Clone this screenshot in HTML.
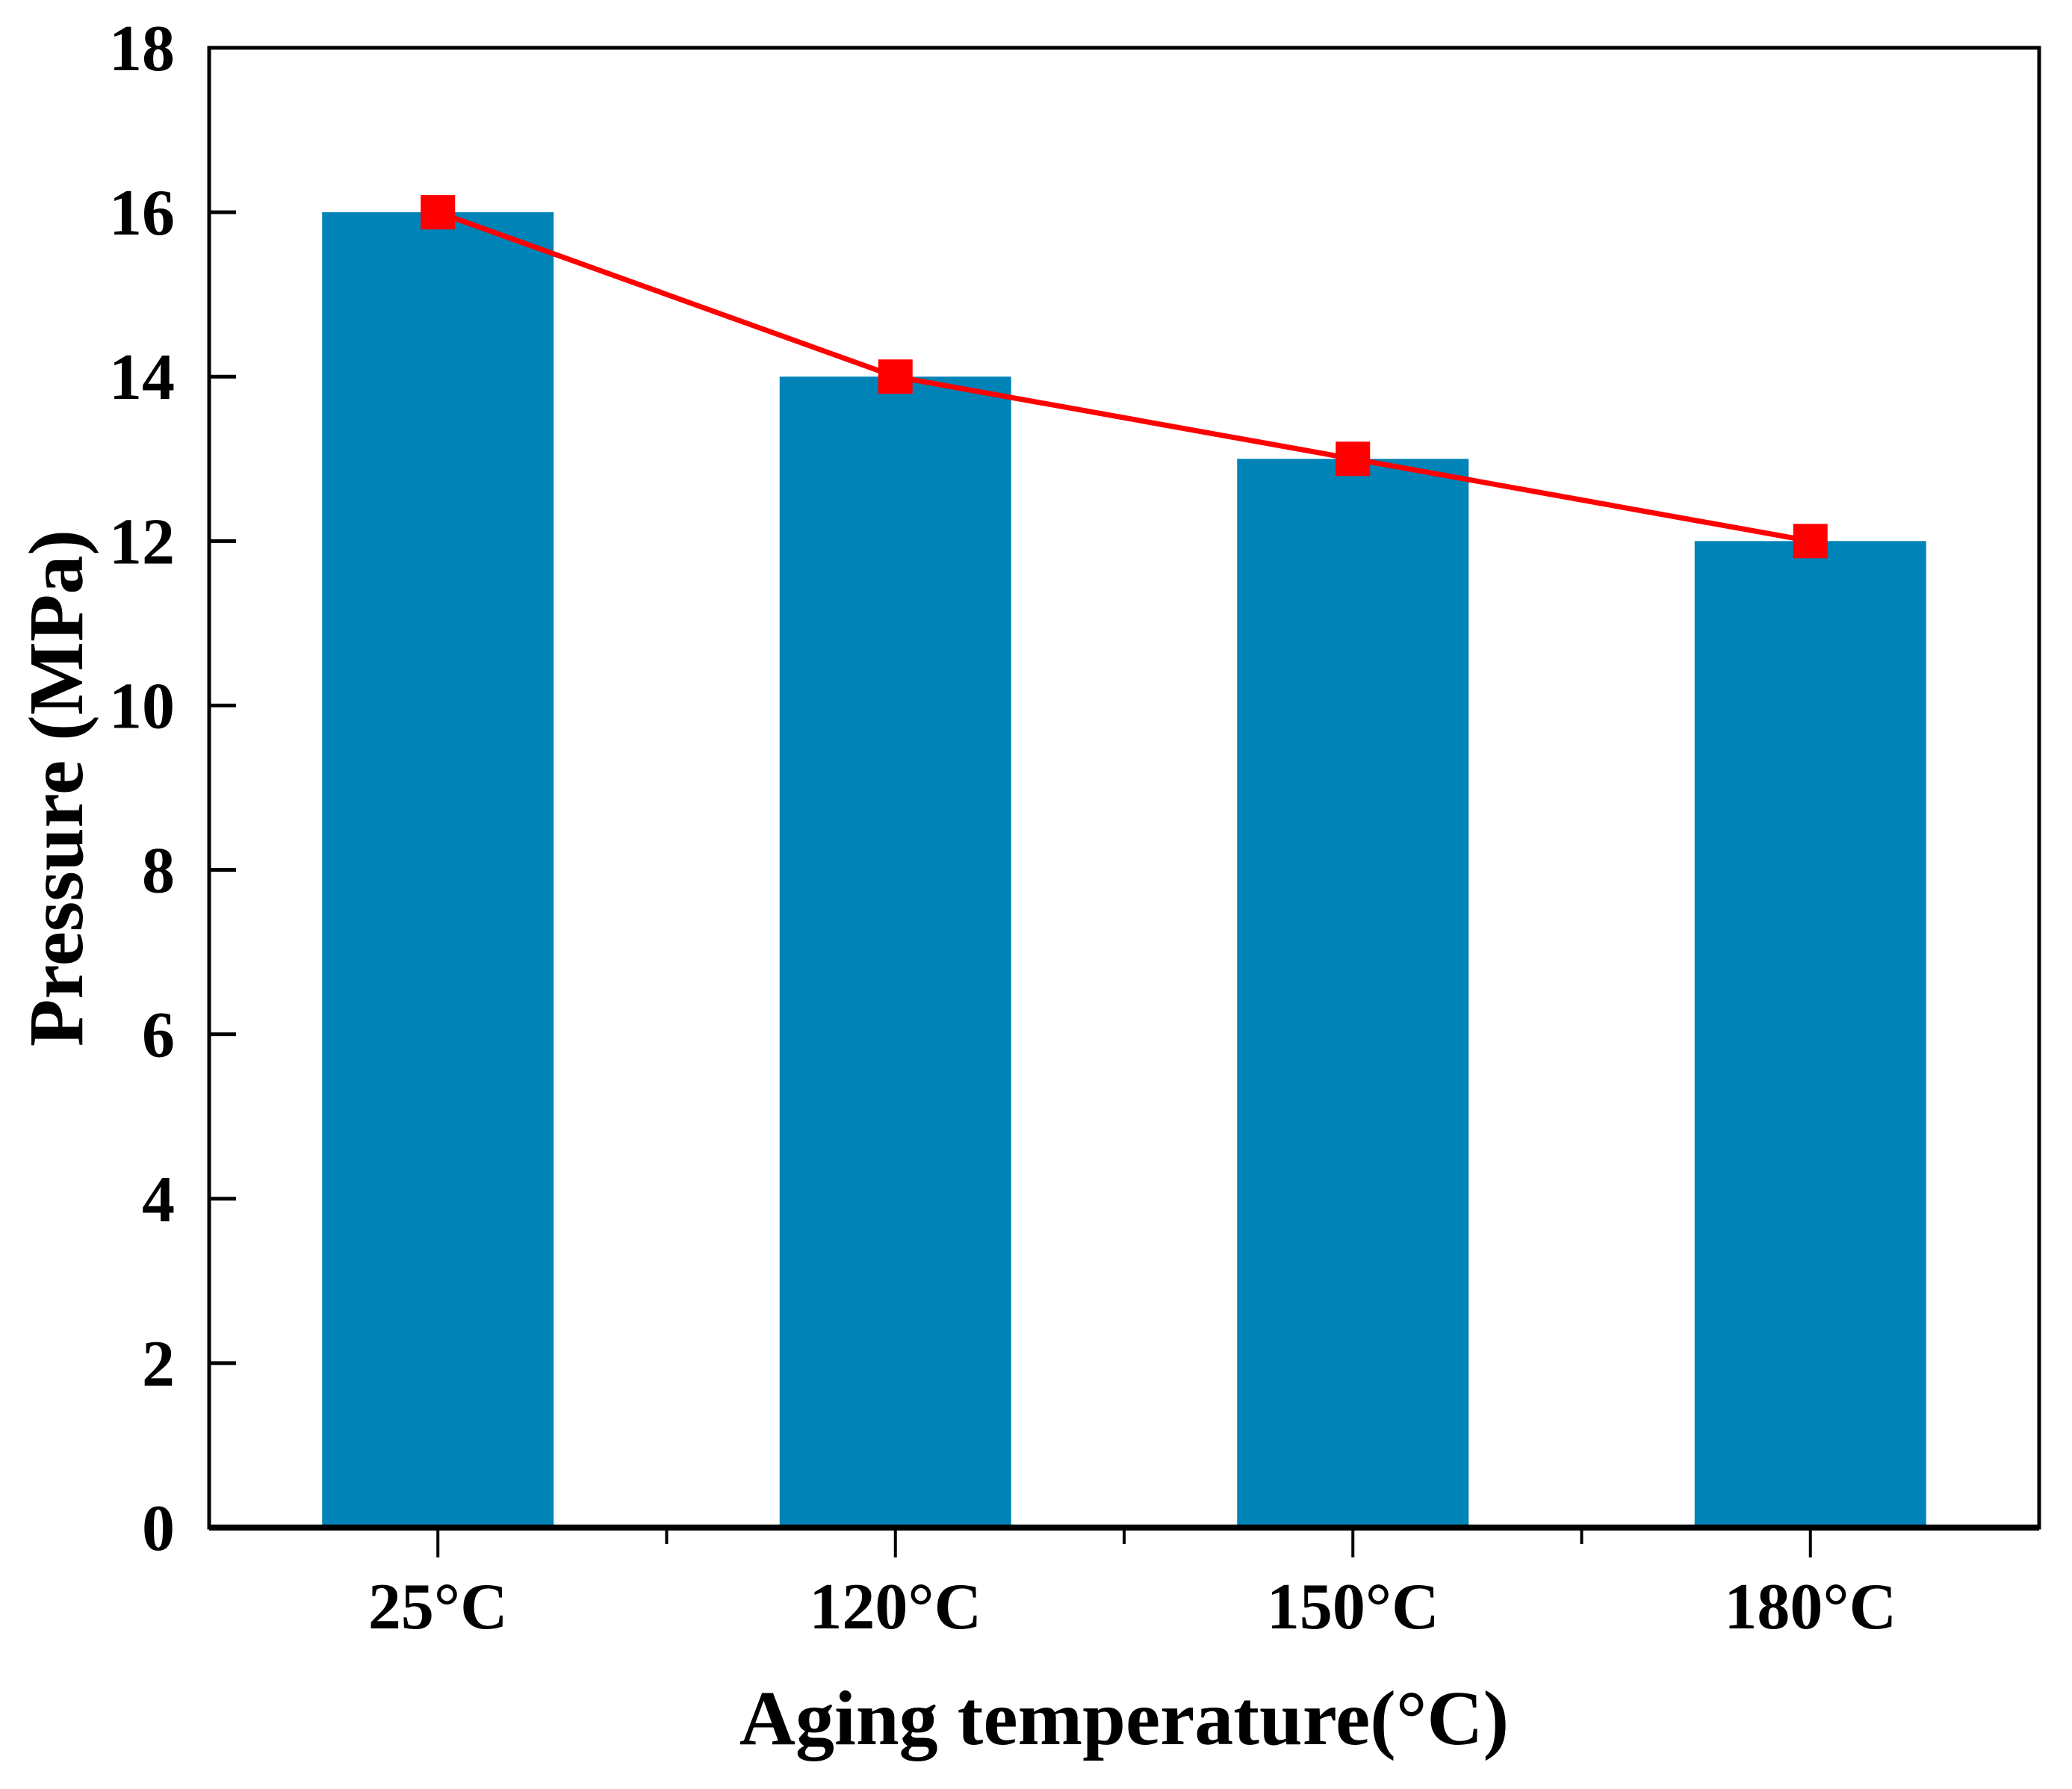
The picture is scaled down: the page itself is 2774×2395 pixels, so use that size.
<!DOCTYPE html>
<html><head><meta charset="utf-8"><style>
html,body{margin:0;padding:0;background:#fff;}
svg text{font-family:"Liberation Serif",serif;font-weight:bold;fill:#000;}
</style></head><body>
<svg id="chart" width="2774" height="2390" xmlns="http://www.w3.org/2000/svg"></svg>
<script>
const categories = ["25\u00B0C","120\u00B0C","150\u00B0C","180\u00B0C"];
const barValues = [16,14,13,12];
const lineValues = [16,14,13,12];
const yTicks = [0,2,4,6,8,10,12,14,16,18];

const L=280, R=2730, T=64, B=2045, yMax=18;
const ns="http://www.w3.org/2000/svg";
const svg=document.getElementById('chart');
const band=(R-L)/categories.length;
const x=i=>L+band*(i+0.5);
const y=v=>B-(v/yMax)*(B-T);
function mk(tag,attrs,parent){const e=document.createElementNS(ns,tag);for(const k in attrs)e.setAttribute(k,attrs[k]);(parent||svg).appendChild(e);return e;}

const bars=mk('g',{});


barValues.forEach((v,i)=>{
  const r=mk('rect',{x:x(i)-155,y:y(v),width:310,height:B-y(v),fill:'#0083B7'},bars);
  
  
});

const frame=mk('rect',{x:L,y:T,width:R-L,height:B-T,fill:'none',stroke:'#000','stroke-width':5});


const xa=mk('line',{x1:L,x2:R,y1:B,y2:B,stroke:'#000','stroke-width':8});



yTicks.forEach(t=>{
  const ln=mk('line',{x1:L,x2:L+36,y1:y(t),y2:y(t),stroke:'#000','stroke-width':5});
  
  
  const tx=mk('text',{x:234,y:y(t)+30,'text-anchor':'end','font-size':88});
  tx.textContent=t;
  
  
});
for(let i=1;i<categories.length;i++){
  const xm=L+band*i;
  const m=mk('line',{x1:xm,x2:xm,y1:B,y2:B+22,stroke:'#000','stroke-width':4});
  
  
}
categories.forEach((c,i)=>{
  const ln=mk('line',{x1:x(i),x2:x(i),y1:B,y2:B+40,stroke:'#000','stroke-width':4});
  
  
  const tx=mk('text',{x:x(i),y:2180,'text-anchor':'middle','font-size':88});
  tx.textContent=c;
  
  
});

const pts=lineValues.map((v,i)=>x(i)+','+y(v)).join(' ');
const pl=mk('polyline',{points:pts,fill:'none',stroke:'#FF0000','stroke-width':7});


lineValues.forEach((v,i)=>{
  const s=mk('rect',{x:x(i)-23,y:y(v)-23,width:46,height:46,fill:'#FF0000'});
  
  
});

const xt=mk('text',{x:1505,y:2335,'text-anchor':'middle','font-size':104});
xt.textContent='Aging temperature(\u00B0C)';


const yt=mk('text',{x:0,y:0,'text-anchor':'middle','font-size':104,transform:'translate(110,1055) rotate(-90)'});
yt.textContent='Pressure (MPa)';


</script>
</body></html>
